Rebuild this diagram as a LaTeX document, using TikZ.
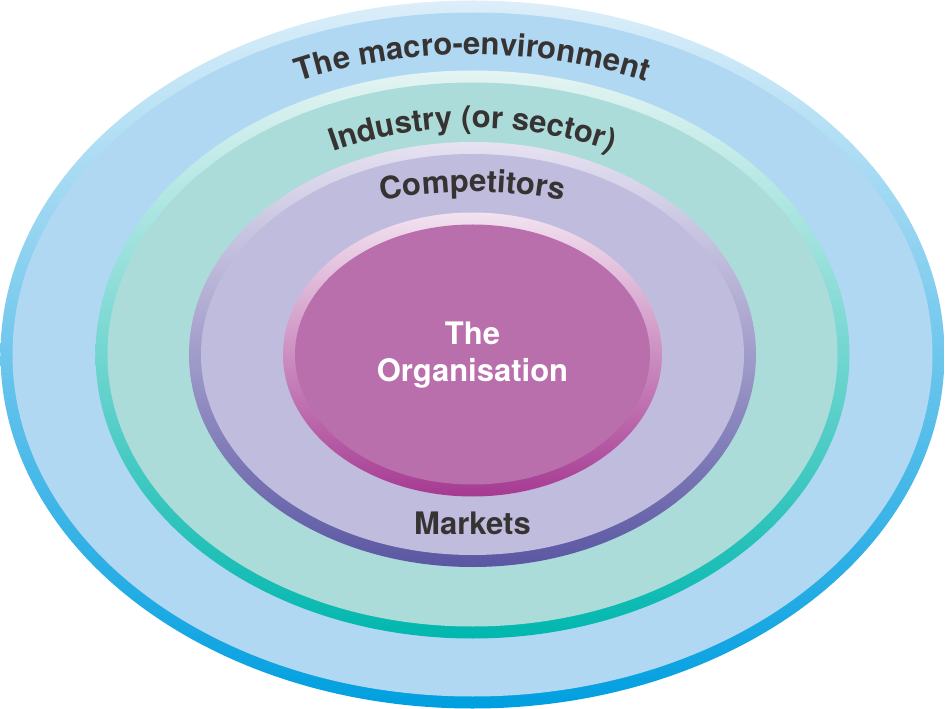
\documentclass[tikz,border=0pt]{standalone}
\usepackage{fontspec}
\setsansfont{TeX Gyre Heros}
\usepackage{tikz}
\usetikzlibrary{positioning,decorations.text}

\definecolor{envtop}{HTML}{DCEEF9}
\definecolor{envbot}{HTML}{009FE0}
\definecolor{envfill}{HTML}{B0D8F3}
\definecolor{indtop}{HTML}{E4F4F2}
\definecolor{indbot}{HTML}{00B7AE}
\definecolor{indfill}{HTML}{ACDCDA}
\definecolor{comptop}{HTML}{E6E2F1}
\definecolor{compbot}{HTML}{5A56A2}
\definecolor{compfill}{HTML}{C0BCDD}
\definecolor{orgtop}{HTML}{F2E2F0}
\definecolor{orgbot}{HTML}{A63A92}
\definecolor{orgfill}{HTML}{B96FAB}
\definecolor{ringgray}{HTML}{373333}

\newcommand{\ringfont}{\sffamily\bfseries\fontsize{31}{31}\selectfont}

\tikzset{
  envrim/.style={top color=envtop, bottom color=envbot},
  indrim/.style={top color=indtop, bottom color=indbot},
  comprim/.style={top color=comptop, bottom color=compbot},
  orgrim/.style={top color=orgtop, bottom color=orgbot},
  arctext/.style={decorate, decoration={text along path, text align=center,
                  text color=ringgray, text={|\ringfont|#1}}},
  ringtext/.style={font=\ringfont, text=ringgray, inner sep=0pt},
  orgtext/.style={font=\sffamily\bfseries\fontsize{31}{37}\selectfont, text=white,
                  align=center, inner sep=0pt},
}

\begin{document}
\begin{tikzpicture}[x=1pt, y=1pt]
  \useasboundingbox (-472.5,-354.5) rectangle (472.5,354.5);

  % the macro-environment
  \shade[envrim] (0,0) ellipse [x radius=472, y radius=354];
  \fill[envfill] (0,0) ellipse [x radius=460, y radius=342];
  % industry
  \shade[indrim] (0,0) ellipse [x radius=377, y radius=284];
  \fill[indfill] (0,0) ellipse [x radius=365, y radius=272];
  % competitors
  \shade[comprim] (0,0) ellipse [x radius=283.5, y radius=212.5];
  \fill[compfill] (0,0) ellipse [x radius=271.5, y radius=200.5];
  % the organisation
  \shade[orgrim] (0,0) ellipse [x radius=189.5, y radius=142];
  \fill[orgfill] (0,0) ellipse [x radius=177.5, y radius=130];

  \path[arctext={The macro-environment}] (0,0) ++(140:420 and 300)
    arc[start angle=140, end angle=40, x radius=420, y radius=300];
  \path[arctext={Industry (or sector)}] (0,0) ++(145:314 and 226.5)
    arc[start angle=145, end angle=35, x radius=314, y radius=226.5];
  \path[arctext={Competitors}] (0,0) ++(145:285 and 162.5)
    arc[start angle=145, end angle=35, x radius=285, y radius=162.5];

  \node[orgtext] (org) at (0,-0.5) {The\\Organisation};
  \node[ringtext, anchor=base] (markets) at (0,-179.5) {Markets};

\end{tikzpicture}
\end{document}
